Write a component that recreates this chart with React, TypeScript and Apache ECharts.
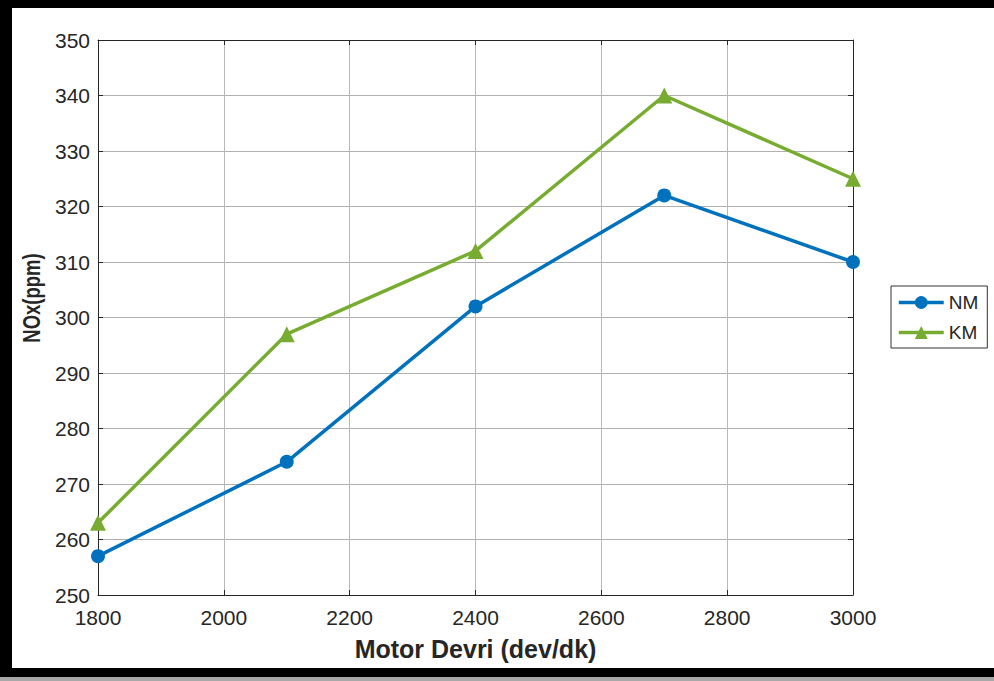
import React, { useEffect, useRef } from "react";
import * as echarts from "echarts";

const speeds = [1800, 2100, 2400, 2700, 3000];
const nmValues = [257, 274, 302, 322, 310];
const kmValues = [263, 297, 312, 340, 325];
const seriesNames = ["NM", "KM"];
const xTitle = "Motor Devri (dev/dk)";
const yTitle = "NOx(ppm)";

export default function App() {
  const ref = useRef<HTMLDivElement>(null);
  useEffect(() => {
    document.body.style.margin = "0";
    const chart = echarts.init(ref.current!, null, { renderer: "svg" });
    const font = "'Liberation Sans', Arial, sans-serif";
    const axisCommon = {
      axisLine: { show: true, lineStyle: { color: "#262626", width: 1 } },
      axisTick: { show: true, inside: true, length: 5, lineStyle: { color: "#262626" } },
    };
    chart.setOption({
      animation: false,
      backgroundColor: "#ffffff",
      textStyle: { fontFamily: font },
      grid: { left: 98, right: 141, top: 40, bottom: 86, containLabel: false },
      xAxis: [
        {
          type: "value",
          min: 1800,
          max: 3000,
          interval: 200,
          ...axisCommon,
          axisLabel: {
            fontSize: 21,
            color: "#262626",
            margin: 12,
            fontFamily: font,
            formatter: (v: number) => String(v),
          },
          splitLine: { show: true, lineStyle: { color: "#b8b8b8", width: 1 } },
          name: xTitle,
          nameLocation: "middle",
          nameGap: 41,
          nameTextStyle: { fontSize: 25, fontWeight: "bold", color: "#262626", fontFamily: font },
        },
        {
          type: "value",
          position: "top",
          min: 1800,
          max: 3000,
          interval: 200,
          ...axisCommon,
          axisLabel: { show: false },
          splitLine: { show: false },
        },
      ],
      yAxis: [
        {
          type: "value",
          min: 250,
          max: 350,
          interval: 10,
          ...axisCommon,
          axisLabel: { fontSize: 21, color: "#262626", margin: 8, fontFamily: font },
          splitLine: { show: true, lineStyle: { color: "#b0b0b0", width: 1 } },
        },
        {
          type: "value",
          position: "right",
          min: 250,
          max: 350,
          interval: 10,
          ...axisCommon,
          axisLabel: { show: false },
          splitLine: { show: false },
        },
      ],
      legend: {
        orient: "vertical",
        left: 891,
        top: 286,
        padding: [7, 9, 6, 6],
        itemGap: 11,
        itemWidth: 45,
        itemHeight: 16,
        lineStyle: { width: 3.5 },
        borderColor: "#333333",
        borderWidth: 1,
        backgroundColor: "#ffffff",
        textStyle: { fontSize: 19, color: "#262626", fontFamily: font },
        data: seriesNames,
      },
      series: [
        {
          name: seriesNames[0],
          type: "line",
          data: speeds.map((s, i) => [s, nmValues[i]]),
          color: "#0072BD",
          lineStyle: { width: 3.5 },
          symbol: "circle",
          symbolSize: 14,
        },
        {
          name: seriesNames[1],
          type: "line",
          data: speeds.map((s, i) => [s, kmValues[i]]),
          color: "#77AC30",
          lineStyle: { width: 3.5 },
          symbol: "triangle",
          symbolSize: 16,
        },
      ],
      graphic: [
        {
          type: "text",
          x: 32,
          y: 298,
          rotation: Math.PI / 2,
          scaleY: 1.3,
          style: {
            text: yTitle,
            fontSize: 18.5,
            fontWeight: "bold",
            fontFamily: font,
            fill: "#262626",
            align: "center",
            verticalAlign: "middle",
          },
        },
        { type: "rect", shape: { x: 0, y: 0, width: 994, height: 8 }, style: { fill: "#000" } },
        { type: "rect", shape: { x: 0, y: 0, width: 12, height: 677 }, style: { fill: "#000" } },
        { type: "rect", shape: { x: 0, y: 668, width: 994, height: 9 }, style: { fill: "#000" } },
        { type: "rect", shape: { x: 0, y: 677, width: 994, height: 4 }, style: { fill: "#a8a8a8" } },
      ],
    });
    return () => chart.dispose();
  }, []);
  return <div ref={ref} style={{ width: 994, height: 681 }} />;
}
